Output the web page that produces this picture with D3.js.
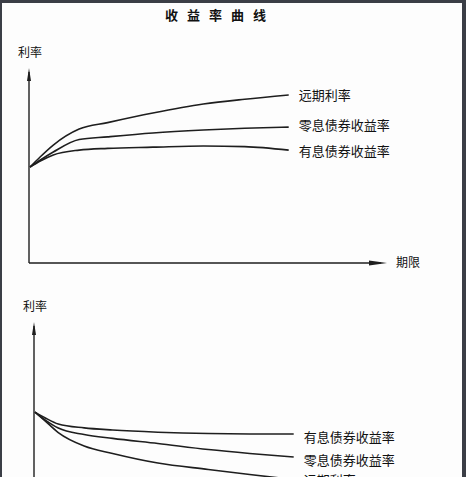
<!DOCTYPE html>
<html>
<head>
<meta charset="utf-8">
<title>收益率曲线</title>
<script src="https://d3js.org/d3.v7.min.js"></script>
<style>
    body { margin: 0; background: #3b3e46; }
    svg { display: block; }
    .curve { fill: none; stroke: #1e1e1e; stroke-width: 1.6px; }
    .axis-line { stroke: #1e1e1e; stroke-width: 1.4px; }
    text { font-family: "Noto Sans CJK SC", sans-serif; fill: #111; }
</style>
</head>
<body>
<svg width="466" height="477"></svg>
<script>
// term points (期限), shared by both panels
const terms = [0, 0.4, 0.9, 1.9, 3, 4.75, 6.7, 8.3, 10];

// upward sloping panel
const upForward = [4.92, 5.45, 6.05, 6.87, 7.20, 7.69, 8.15, 8.40, 8.62];
const upZero    = [4.92, 5.28, 5.69, 6.33, 6.47, 6.67, 6.82, 6.91, 6.97];
const upCoupon  = [4.92, 5.23, 5.54, 5.79, 5.88, 5.94, 6.00, 5.97, 5.79];

// downward sloping panel
const downCoupon  = [5.38, 5.08, 4.77, 4.57, 4.46, 4.35, 4.28, 4.26, 4.26];
const downZero    = [5.38, 4.97, 4.56, 4.23, 4.03, 3.77, 3.46, 3.26, 3.08];
const downForward = [5.38, 4.92, 4.33, 3.64, 3.26, 2.77, 2.44, 2.18, 1.92];

const labelForward = "远期利率";
const labelZero = "零息债券收益率";
const labelCoupon = "有息债券收益率";

const svg = d3.select("svg");

// white page inside dark frame
svg.append("rect")
   .attr("x", 2).attr("y", 3)
   .attr("width", 460).attr("height", 474)
   .attr("fill", "#fdfdfd");

svg.append("text")
   .attr("x", 220)
   .attr("y", 20)
   .attr("text-anchor", "middle")
   .attr("font-size", "13px")
   .attr("font-weight", "bold")
   .attr("letter-spacing", "9px")
   .text("收益率曲线");

function panel(cfg) {
    const x = d3.scaleLinear().domain([0, 13.8]).range([cfg.x0, cfg.x0 + 357]);
    const y = d3.scaleLinear().domain([0, 10]).range([cfg.yBase, cfg.yBase - 195]);
    const g = svg.append("g");

    // y axis with arrow
    g.append("line").attr("class", "axis-line")
     .attr("x1", x(0) - 1).attr("x2", x(0) - 1)
     .attr("y1", y(0)).attr("y2", y(10) + 4);
    g.append("path")
     .attr("d", d3.line()([[x(0) - 1, y(10)], [x(0) - 3, y(10) + 13], [x(0) + 1, y(10) + 13]]))
     .attr("fill", "#1e1e1e");
    g.append("text")
     .attr("x", x(0) - 12).attr("y", y(10) - 11)
     .attr("font-size", "12px")
     .text("利率");

    // x axis with arrow
    if (cfg.showX) {
        g.append("line").attr("class", "axis-line")
         .attr("x1", x(0) - 1).attr("x2", x(13.8) - 6)
         .attr("y1", y(0)).attr("y2", y(0));
        g.append("path")
         .attr("d", d3.line()([[x(13.8), y(0)], [x(13.8) - 18, y(0) - 2.5], [x(13.8) - 18, y(0) + 2.5]]))
         .attr("fill", "#1e1e1e");
        g.append("text")
         .attr("x", x(13.8) + 9).attr("y", y(0) + 4)
         .attr("font-size", "12px")
         .text("期限");
    }

    const line = d3.line()
        .x((d, i) => x(terms[i]))
        .y(d => y(d))
        .curve(d3.curveMonotoneX);

    cfg.series.forEach(s => {
        g.append("path").datum(s.values)
         .attr("class", "curve")
         .attr("d", line);
        g.append("text")
         .attr("x", x(10) + 10)
         .attr("y", s.labelY)
         .attr("font-size", "13px")
         .text(s.label);
    });
}

panel({
    x0: 30, yBase: 263, showX: true,
    series: [
        { values: upForward, label: labelForward, labelY: 100 },
        { values: upZero, label: labelZero, labelY: 130 },
        { values: upCoupon, label: labelCoupon, labelY: 156 }
    ]
});

panel({
    x0: 35, yBase: 517, showX: false,
    series: [
        { values: downCoupon, label: labelCoupon, labelY: 442 },
        { values: downZero, label: labelZero, labelY: 465 },
        { values: downForward, label: labelForward, labelY: 485 }
    ]
});
</script>
</body>
</html>
